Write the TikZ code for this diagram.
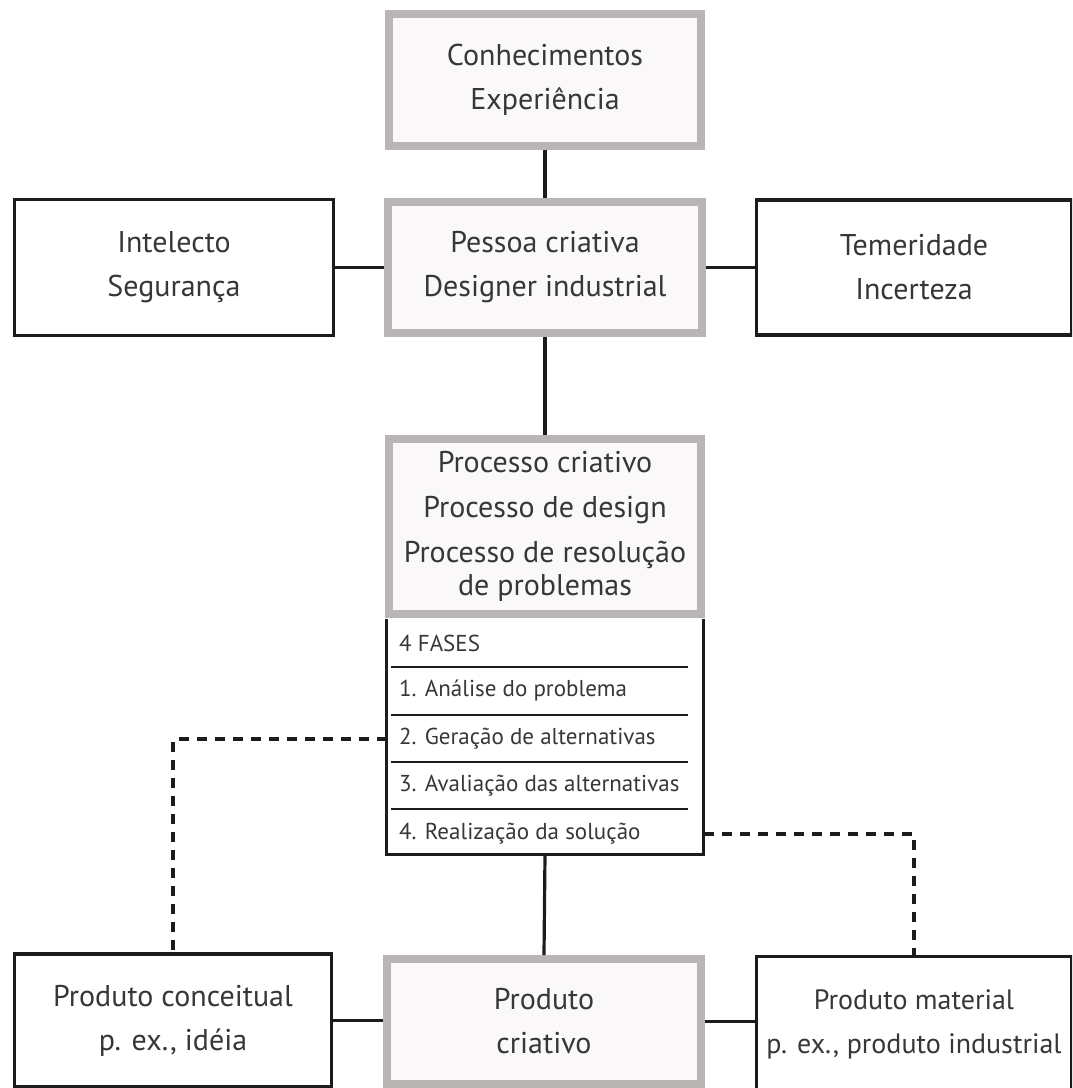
\documentclass[tikz,border=0pt]{standalone}
\usepackage{fontspec}
\setmainfont{PT Sans}
\definecolor{boxgray}{RGB}{186,181,181}
\definecolor{boxfill}{RGB}{250,248,248}
\definecolor{ink}{RGB}{28,28,28}
\definecolor{txt}{RGB}{55,55,55}
\begin{document}
\begin{tikzpicture}[x=1pt,y=-1pt,
  bigtext/.style={text=txt, align=center, inner sep=0pt, font=\fontsize{30}{44}\selectfont},
  graybox/.style={bigtext, draw=boxgray, line width=8pt, fill=boxfill},
  blackbox/.style={bigtext, draw=ink, line width=3.2pt, fill=white},
  conn/.style={draw=ink, line width=3.2pt},
  dashconn/.style={draw=ink, line width=3.5pt, dash pattern=on 10pt off 8pt},
  rowline/.style={draw=ink, line width=2.2pt},
  rowtext/.style={anchor=west, text=txt, inner sep=0pt, font=\fontsize{23}{26}\selectfont}]
\useasboundingbox (0,0) rectangle (1072,1088);
\clip (0,0) rectangle (1072,1088);

% top row
\node[graybox, minimum width=312pt, minimum height=132pt] (know) at (545,80) {Conhecimentos\\Experiência};
\node[graybox, minimum width=314pt, minimum height=131pt] (pessoa) at (545,267.5) {Pessoa criativa\\Designer industrial};
\node[blackbox, minimum width=319pt, minimum height=136pt] (intel) at (174,267.5) {Intelecto\\Segurança};
\node[blackbox, minimum width=315pt, minimum height=135pt] (temer) at (914,267.5) {Temeridade\\Incerteza};

% process
\node[graybox, minimum width=312pt, minimum height=175pt, font=\fontsize{30}{33}\selectfont] (proc) at (545,526.5)
  {Processo criativo\\[12pt]Processo de design\\[12pt]Processo de resolução\\de problemas};
\node[inner sep=0pt, outer sep=0pt, minimum width=317pt, minimum height=235.5pt] (tab) at (545,736.75) {};
\draw[conn] (tab.north west) -- (tab.south west) -- (tab.south east) -- (tab.north east);
\node[rowtext] (r0) at (399,643) {4 FASES};
\node[rowtext] (r1) at (399,691) {1. Análise do problema};
\node[rowtext] (r2) at (399,739) {2. Geração de alternativas};
\node[rowtext] (r3) at (399,786) {3. Avaliação das alternativas};
\node[rowtext] (r4) at (399,834) {4. Realização da solução};
\foreach \yy in {667,715,762,809} \draw[rowline] (391,\yy) -- (688,\yy);

% bottom row
\node[blackbox, minimum width=317pt, minimum height=133pt] (concept) at (173,1020.5) {Produto conceitual\\p. ex., idéia};
\node[graybox, minimum width=314pt, minimum height=125pt] (criativo) at (544,1021.5) {Produto\\criativo};
\node[blackbox, minimum width=315pt, minimum height=135pt, font=\fontsize{28}{44}\selectfont] (material) at (914,1024) {Produto material\\p. ex., produto industrial};

% connectors
\draw[conn] (know.south) -- (pessoa.north);
\draw[conn] (intel.east) -- (pessoa.west);
\draw[conn] (pessoa.east) -- (temer.west);
\draw[conn] (pessoa.south) -- (proc.north);
\draw[conn] (tab.south) -- (criativo.north);
\draw[conn] (concept.east) -- (criativo.west |- concept.east);
\draw[conn] (criativo.east) -- (material.west |- criativo.east);
\draw[dashconn] (tab.west |- r2.west) -| (concept.north);
\draw[dashconn] (tab.east |- r4.west) -| (material.north);
\end{tikzpicture}
\end{document}
